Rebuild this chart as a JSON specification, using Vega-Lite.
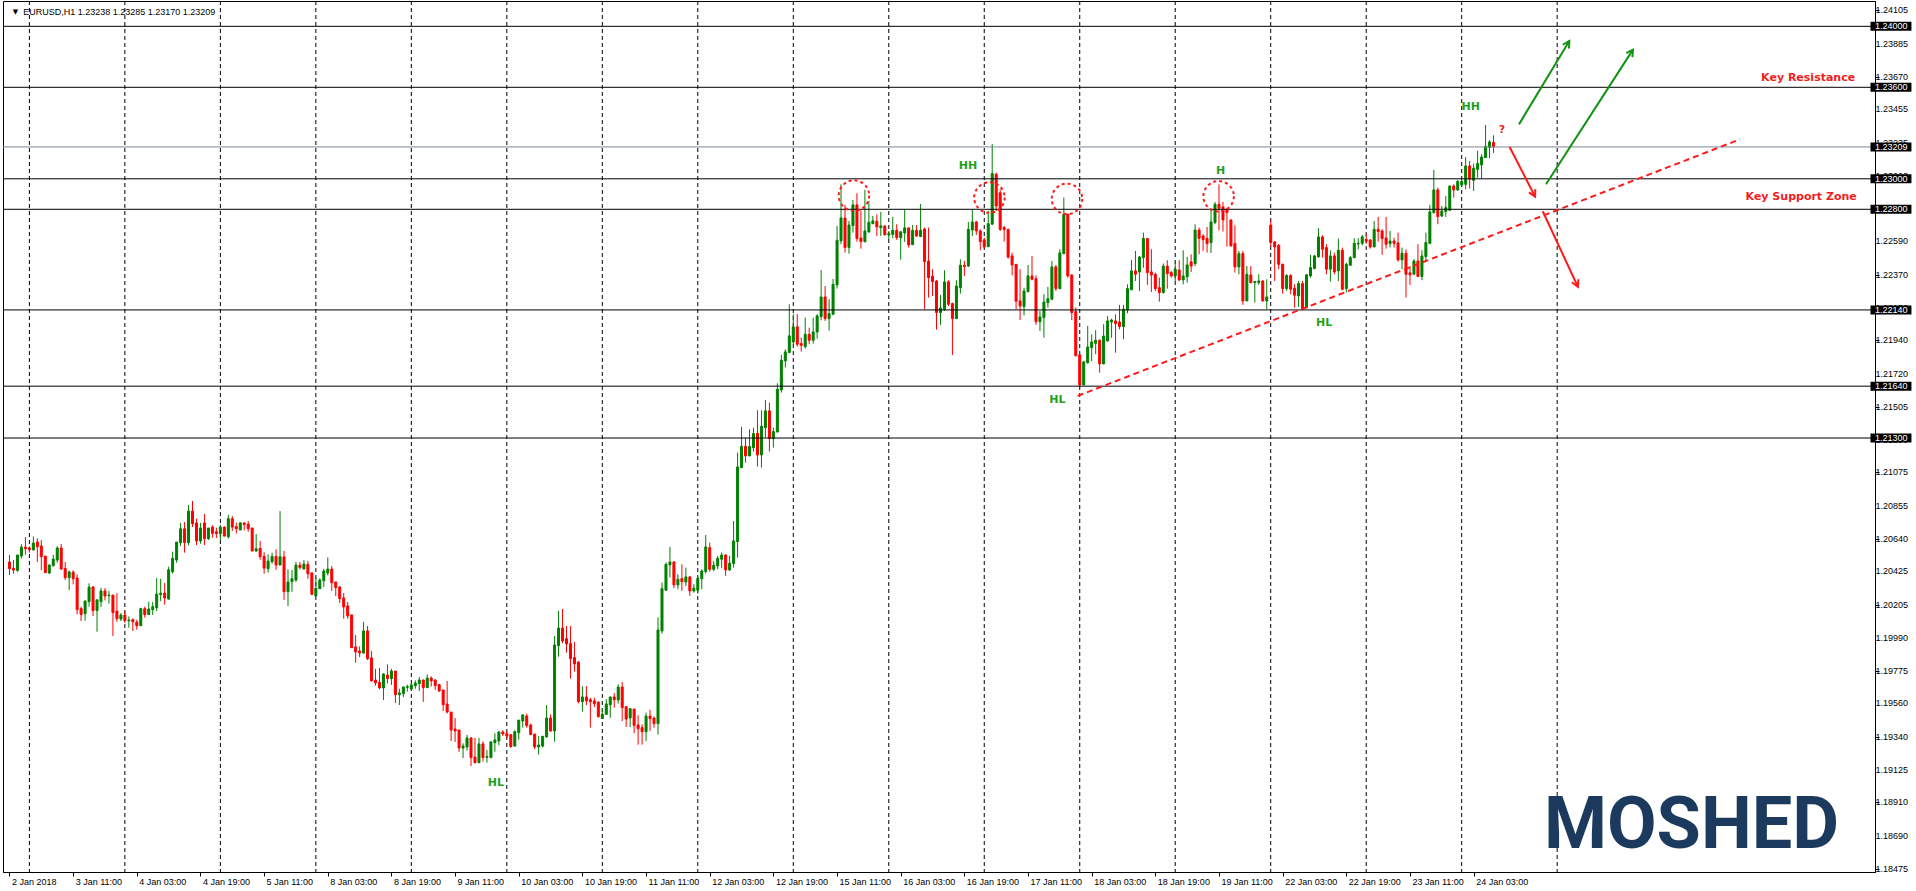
{
  "$schema": "https://vega.github.io/schema/vega-lite/v6.json",
  "width": 1872,
  "height": 871,
  "padding": {"left": 2, "top": 0, "right": 0, "bottom": 0},
  "background": "white",
  "config": {"view": {"stroke": "black", "strokeWidth": 1}, "font": "Liberation Sans", "axis": {"labelOverlap": false, "labelBound": false, "labelFlush": false}},
  "datasets": {
    "bars": [
      {"i":0,"o":1.20487,"h":1.20533,"l":1.20402,"c":1.20443},
      {"i":1,"o":1.20445,"h":1.20500,"l":1.20410,"c":1.20434},
      {"i":2,"o":1.20432,"h":1.20533,"l":1.20423,"c":1.20533},
      {"i":3,"o":1.20526,"h":1.20603,"l":1.20509,"c":1.20585},
      {"i":4,"o":1.20585,"h":1.20651,"l":1.20535,"c":1.20574},
      {"i":5,"o":1.20579,"h":1.20590,"l":1.20548,"c":1.20568},
      {"i":6,"o":1.20566,"h":1.20655,"l":1.20563,"c":1.20611},
      {"i":7,"o":1.20618,"h":1.20642,"l":1.20487,"c":1.20587},
      {"i":8,"o":1.20592,"h":1.20631,"l":1.20434,"c":1.20522},
      {"i":9,"o":1.20526,"h":1.20526,"l":1.20415,"c":1.20417},
      {"i":10,"o":1.20415,"h":1.20471,"l":1.20408,"c":1.20467},
      {"i":11,"o":1.20463,"h":1.20535,"l":1.20456,"c":1.20506},
      {"i":12,"o":1.20500,"h":1.20590,"l":1.20482,"c":1.20579},
      {"i":13,"o":1.20579,"h":1.20605,"l":1.20434,"c":1.20441},
      {"i":14,"o":1.20445,"h":1.20487,"l":1.20369,"c":1.20384},
      {"i":15,"o":1.20384,"h":1.20432,"l":1.20303,"c":1.20421},
      {"i":16,"o":1.20421,"h":1.20432,"l":1.20340,"c":1.20377},
      {"i":17,"o":1.20382,"h":1.20406,"l":1.20144,"c":1.20174},
      {"i":18,"o":1.20181,"h":1.20194,"l":1.20100,"c":1.20142},
      {"i":19,"o":1.20148,"h":1.20235,"l":1.20102,"c":1.20231},
      {"i":20,"o":1.20227,"h":1.20347,"l":1.20194,"c":1.20323},
      {"i":21,"o":1.20323,"h":1.20329,"l":1.20133,"c":1.20168},
      {"i":22,"o":1.20168,"h":1.20244,"l":1.20030,"c":1.20238},
      {"i":23,"o":1.20227,"h":1.20318,"l":1.20192,"c":1.20297},
      {"i":24,"o":1.20297,"h":1.20316,"l":1.20235,"c":1.20264},
      {"i":25,"o":1.20266,"h":1.20297,"l":1.20214,"c":1.20270},
      {"i":26,"o":1.20270,"h":1.20270,"l":1.20002,"c":1.20155},
      {"i":27,"o":1.20165,"h":1.20283,"l":1.20095,"c":1.20115},
      {"i":28,"o":1.20113,"h":1.20152,"l":1.20100,"c":1.20139},
      {"i":29,"o":1.20139,"h":1.20163,"l":1.20087,"c":1.20102},
      {"i":30,"o":1.20102,"h":1.20130,"l":1.20056,"c":1.20106},
      {"i":31,"o":1.20109,"h":1.20117,"l":1.20034,"c":1.20095},
      {"i":32,"o":1.20093,"h":1.20109,"l":1.20043,"c":1.20069},
      {"i":33,"o":1.20069,"h":1.20187,"l":1.20069,"c":1.20181},
      {"i":34,"o":1.20181,"h":1.20194,"l":1.20122,"c":1.20142},
      {"i":35,"o":1.20142,"h":1.20227,"l":1.20142,"c":1.20179},
      {"i":36,"o":1.20174,"h":1.20225,"l":1.20139,"c":1.20194},
      {"i":37,"o":1.20187,"h":1.20382,"l":1.20165,"c":1.20277},
      {"i":38,"o":1.20273,"h":1.20377,"l":1.20231,"c":1.20283},
      {"i":39,"o":1.20283,"h":1.20349,"l":1.20207,"c":1.20251},
      {"i":40,"o":1.20244,"h":1.20456,"l":1.20240,"c":1.20436},
      {"i":41,"o":1.20423,"h":1.20555,"l":1.20412,"c":1.20511},
      {"i":42,"o":1.20500,"h":1.20618,"l":1.20482,"c":1.20618},
      {"i":43,"o":1.20614,"h":1.20743,"l":1.20592,"c":1.20705},
      {"i":44,"o":1.20705,"h":1.20749,"l":1.20548,"c":1.20614},
      {"i":45,"o":1.20614,"h":1.20861,"l":1.20596,"c":1.20821},
      {"i":46,"o":1.20821,"h":1.20887,"l":1.20716,"c":1.20738},
      {"i":47,"o":1.20743,"h":1.20771,"l":1.20598,"c":1.20625},
      {"i":48,"o":1.20625,"h":1.20743,"l":1.20607,"c":1.20710},
      {"i":49,"o":1.20743,"h":1.20802,"l":1.20598,"c":1.20640},
      {"i":50,"o":1.20640,"h":1.20710,"l":1.20631,"c":1.20710},
      {"i":51,"o":1.20716,"h":1.20729,"l":1.20646,"c":1.20675},
      {"i":52,"o":1.20686,"h":1.20712,"l":1.20644,"c":1.20673},
      {"i":53,"o":1.20673,"h":1.20732,"l":1.20631,"c":1.20716},
      {"i":54,"o":1.20716,"h":1.20721,"l":1.20655,"c":1.20657},
      {"i":55,"o":1.20653,"h":1.20797,"l":1.20640,"c":1.20771},
      {"i":56,"o":1.20771,"h":1.20788,"l":1.20690,"c":1.20716},
      {"i":57,"o":1.20719,"h":1.20745,"l":1.20673,"c":1.20705},
      {"i":58,"o":1.20697,"h":1.20749,"l":1.20697,"c":1.20743},
      {"i":59,"o":1.20743,"h":1.20747,"l":1.20694,"c":1.20732},
      {"i":60,"o":1.20736,"h":1.20756,"l":1.20686,"c":1.20705},
      {"i":61,"o":1.20710,"h":1.20710,"l":1.20559,"c":1.20559},
      {"i":62,"o":1.20559,"h":1.20670,"l":1.20555,"c":1.20574},
      {"i":63,"o":1.20576,"h":1.20625,"l":1.20502,"c":1.20522},
      {"i":64,"o":1.20524,"h":1.20552,"l":1.20410,"c":1.20447},
      {"i":65,"o":1.20443,"h":1.20537,"l":1.20417,"c":1.20493},
      {"i":66,"o":1.20489,"h":1.20548,"l":1.20476,"c":1.20524},
      {"i":67,"o":1.20524,"h":1.20570,"l":1.20436,"c":1.20467},
      {"i":68,"o":1.20467,"h":1.20821,"l":1.20467,"c":1.20522},
      {"i":69,"o":1.20520,"h":1.20559,"l":1.20238,"c":1.20292},
      {"i":70,"o":1.20292,"h":1.20439,"l":1.20198,"c":1.20356},
      {"i":71,"o":1.20358,"h":1.20434,"l":1.20292,"c":1.20377},
      {"i":72,"o":1.20369,"h":1.20487,"l":1.20356,"c":1.20467},
      {"i":73,"o":1.20467,"h":1.20487,"l":1.20439,"c":1.20450},
      {"i":74,"o":1.20441,"h":1.20500,"l":1.20439,"c":1.20474},
      {"i":75,"o":1.20471,"h":1.20493,"l":1.20377,"c":1.20410},
      {"i":76,"o":1.20415,"h":1.20419,"l":1.20270,"c":1.20275},
      {"i":77,"o":1.20264,"h":1.20384,"l":1.20264,"c":1.20314},
      {"i":78,"o":1.20312,"h":1.20380,"l":1.20312,"c":1.20369},
      {"i":79,"o":1.20364,"h":1.20443,"l":1.20323,"c":1.20428},
      {"i":80,"o":1.20415,"h":1.20517,"l":1.20399,"c":1.20441},
      {"i":81,"o":1.20441,"h":1.20461,"l":1.20297,"c":1.20351},
      {"i":82,"o":1.20356,"h":1.20356,"l":1.20264,"c":1.20319},
      {"i":83,"o":1.20323,"h":1.20330,"l":1.20218,"c":1.20247},
      {"i":84,"o":1.20251,"h":1.20284,"l":1.20115,"c":1.20192},
      {"i":85,"o":1.20199,"h":1.20225,"l":1.20115,"c":1.20133},
      {"i":86,"o":1.20140,"h":1.20140,"l":1.19925,"c":1.19925},
      {"i":87,"o":1.19930,"h":1.20008,"l":1.19827,"c":1.19897},
      {"i":88,"o":1.19903,"h":1.19934,"l":1.19864,"c":1.19890},
      {"i":89,"o":1.19890,"h":1.20094,"l":1.19886,"c":1.20035},
      {"i":90,"o":1.20035,"h":1.20067,"l":1.19844,"c":1.19853},
      {"i":91,"o":1.19858,"h":1.19903,"l":1.19702,"c":1.19707},
      {"i":92,"o":1.19713,"h":1.19786,"l":1.19676,"c":1.19694},
      {"i":93,"o":1.19698,"h":1.19792,"l":1.19652,"c":1.19661},
      {"i":94,"o":1.19661,"h":1.19755,"l":1.19582,"c":1.19753},
      {"i":95,"o":1.19746,"h":1.19816,"l":1.19691,"c":1.19722},
      {"i":96,"o":1.19722,"h":1.19786,"l":1.19681,"c":1.19772},
      {"i":97,"o":1.19772,"h":1.19772,"l":1.19562,"c":1.19617},
      {"i":98,"o":1.19617,"h":1.19656,"l":1.19549,"c":1.19628},
      {"i":99,"o":1.19624,"h":1.19670,"l":1.19602,"c":1.19667},
      {"i":100,"o":1.19665,"h":1.19683,"l":1.19637,"c":1.19670},
      {"i":101,"o":1.19654,"h":1.19696,"l":1.19648,"c":1.19681},
      {"i":102,"o":1.19676,"h":1.19711,"l":1.19656,"c":1.19694},
      {"i":103,"o":1.19689,"h":1.19733,"l":1.19641,"c":1.19713},
      {"i":104,"o":1.19713,"h":1.19715,"l":1.19569,"c":1.19663},
      {"i":105,"o":1.19663,"h":1.19750,"l":1.19663,"c":1.19726},
      {"i":106,"o":1.19726,"h":1.19737,"l":1.19670,"c":1.19707},
      {"i":107,"o":1.19713,"h":1.19718,"l":1.19648,"c":1.19676},
      {"i":108,"o":1.19683,"h":1.19685,"l":1.19635,"c":1.19641},
      {"i":109,"o":1.19648,"h":1.19648,"l":1.19510,"c":1.19551},
      {"i":110,"o":1.19556,"h":1.19707,"l":1.19495,"c":1.19503},
      {"i":111,"o":1.19503,"h":1.19503,"l":1.19313,"c":1.19385},
      {"i":112,"o":1.19392,"h":1.19464,"l":1.19307,"c":1.19379},
      {"i":113,"o":1.19385,"h":1.19385,"l":1.19241,"c":1.19267},
      {"i":114,"o":1.19267,"h":1.19298,"l":1.19202,"c":1.19280},
      {"i":115,"o":1.19274,"h":1.19353,"l":1.19250,"c":1.19333},
      {"i":116,"o":1.19333,"h":1.19337,"l":1.19149,"c":1.19204},
      {"i":117,"o":1.19208,"h":1.19333,"l":1.19165,"c":1.19171},
      {"i":118,"o":1.19171,"h":1.19333,"l":1.19167,"c":1.19294},
      {"i":119,"o":1.19294,"h":1.19311,"l":1.19178,"c":1.19204},
      {"i":120,"o":1.19206,"h":1.19254,"l":1.19171,"c":1.19211},
      {"i":121,"o":1.19204,"h":1.19313,"l":1.19204,"c":1.19307},
      {"i":122,"o":1.19302,"h":1.19364,"l":1.19243,"c":1.19320},
      {"i":123,"o":1.19313,"h":1.19379,"l":1.19285,"c":1.19372},
      {"i":124,"o":1.19372,"h":1.19385,"l":1.19346,"c":1.19359},
      {"i":125,"o":1.19361,"h":1.19379,"l":1.19331,"c":1.19346},
      {"i":126,"o":1.19355,"h":1.19355,"l":1.19270,"c":1.19276},
      {"i":127,"o":1.19280,"h":1.19383,"l":1.19276,"c":1.19374},
      {"i":128,"o":1.19368,"h":1.19453,"l":1.19322,"c":1.19449},
      {"i":129,"o":1.19444,"h":1.19488,"l":1.19401,"c":1.19484},
      {"i":130,"o":1.19477,"h":1.19493,"l":1.19401,"c":1.19414},
      {"i":131,"o":1.19418,"h":1.19427,"l":1.19355,"c":1.19355},
      {"i":132,"o":1.19359,"h":1.19359,"l":1.19259,"c":1.19274},
      {"i":133,"o":1.19274,"h":1.19346,"l":1.19224,"c":1.19287},
      {"i":134,"o":1.19280,"h":1.19346,"l":1.19270,"c":1.19344},
      {"i":135,"o":1.19340,"h":1.19549,"l":1.19335,"c":1.19464},
      {"i":136,"o":1.19464,"h":1.19488,"l":1.19374,"c":1.19379},
      {"i":137,"o":1.19379,"h":1.20002,"l":1.19309,"c":1.19943},
      {"i":138,"o":1.19938,"h":1.20166,"l":1.19866,"c":1.20054},
      {"i":139,"o":1.20054,"h":1.20179,"l":1.19954,"c":1.19969},
      {"i":140,"o":1.19984,"h":1.20067,"l":1.19893,"c":1.19949},
      {"i":141,"o":1.19952,"h":1.20067,"l":1.19722,"c":1.19853},
      {"i":142,"o":1.19860,"h":1.19963,"l":1.19768,"c":1.19818},
      {"i":143,"o":1.19831,"h":1.19836,"l":1.19560,"c":1.19571},
      {"i":144,"o":1.19571,"h":1.19672,"l":1.19506,"c":1.19602},
      {"i":145,"o":1.19602,"h":1.19674,"l":1.19549,"c":1.19576},
      {"i":146,"o":1.19584,"h":1.19597,"l":1.19401,"c":1.19571},
      {"i":147,"o":1.19576,"h":1.19597,"l":1.19536,"c":1.19558},
      {"i":148,"o":1.19569,"h":1.19569,"l":1.19466,"c":1.19473},
      {"i":149,"o":1.19460,"h":1.19525,"l":1.19460,"c":1.19490},
      {"i":150,"o":1.19488,"h":1.19587,"l":1.19484,"c":1.19556},
      {"i":151,"o":1.19551,"h":1.19602,"l":1.19466,"c":1.19602},
      {"i":152,"o":1.19602,"h":1.19628,"l":1.19532,"c":1.19584},
      {"i":153,"o":1.19582,"h":1.19685,"l":1.19558,"c":1.19667},
      {"i":154,"o":1.19667,"h":1.19700,"l":1.19444,"c":1.19532},
      {"i":155,"o":1.19538,"h":1.19543,"l":1.19405,"c":1.19457},
      {"i":156,"o":1.19464,"h":1.19527,"l":1.19405,"c":1.19525},
      {"i":157,"o":1.19523,"h":1.19523,"l":1.19363,"c":1.19416},
      {"i":158,"o":1.19418,"h":1.19482,"l":1.19289,"c":1.19394},
      {"i":159,"o":1.19401,"h":1.19423,"l":1.19289,"c":1.19374},
      {"i":160,"o":1.19374,"h":1.19499,"l":1.19313,"c":1.19477},
      {"i":161,"o":1.19477,"h":1.19517,"l":1.19379,"c":1.19460},
      {"i":162,"o":1.19464,"h":1.19473,"l":1.19401,"c":1.19427},
      {"i":163,"o":1.19427,"h":1.20124,"l":1.19355,"c":1.20041},
      {"i":164,"o":1.20035,"h":1.20352,"l":1.20017,"c":1.20312},
      {"i":165,"o":1.20302,"h":1.20483,"l":1.20297,"c":1.20472},
      {"i":166,"o":1.20468,"h":1.20586,"l":1.20385,"c":1.20487},
      {"i":167,"o":1.20487,"h":1.20494,"l":1.20315,"c":1.20337},
      {"i":168,"o":1.20337,"h":1.20407,"l":1.20308,"c":1.20374},
      {"i":169,"o":1.20378,"h":1.20472,"l":1.20297,"c":1.20358},
      {"i":170,"o":1.20356,"h":1.20450,"l":1.20330,"c":1.20389},
      {"i":171,"o":1.20389,"h":1.20396,"l":1.20264,"c":1.20297},
      {"i":172,"o":1.20297,"h":1.20341,"l":1.20286,"c":1.20315},
      {"i":173,"o":1.20302,"h":1.20389,"l":1.20280,"c":1.20380},
      {"i":174,"o":1.20378,"h":1.20439,"l":1.20308,"c":1.20428},
      {"i":175,"o":1.20424,"h":1.20664,"l":1.20411,"c":1.20586},
      {"i":176,"o":1.20581,"h":1.20614,"l":1.20424,"c":1.20439},
      {"i":177,"o":1.20439,"h":1.20494,"l":1.20428,"c":1.20466},
      {"i":178,"o":1.20461,"h":1.20527,"l":1.20439,"c":1.20511},
      {"i":179,"o":1.20505,"h":1.20549,"l":1.20446,"c":1.20533},
      {"i":180,"o":1.20533,"h":1.20538,"l":1.20396,"c":1.20435},
      {"i":181,"o":1.20435,"h":1.20527,"l":1.20428,"c":1.20479},
      {"i":182,"o":1.20477,"h":1.20756,"l":1.20450,"c":1.20625},
      {"i":183,"o":1.20621,"h":1.21204,"l":1.20516,"c":1.21110},
      {"i":184,"o":1.21106,"h":1.21373,"l":1.21102,"c":1.21246},
      {"i":185,"o":1.21246,"h":1.21303,"l":1.21139,"c":1.21183},
      {"i":186,"o":1.21183,"h":1.21357,"l":1.21180,"c":1.21244},
      {"i":187,"o":1.21237,"h":1.21368,"l":1.21211,"c":1.21329},
      {"i":188,"o":1.21331,"h":1.21482,"l":1.21113,"c":1.21189},
      {"i":189,"o":1.21189,"h":1.21482,"l":1.21106,"c":1.21377},
      {"i":190,"o":1.21368,"h":1.21550,"l":1.21303,"c":1.21478},
      {"i":191,"o":1.21478,"h":1.21532,"l":1.21211,"c":1.21296},
      {"i":192,"o":1.21296,"h":1.21368,"l":1.21237,"c":1.21342},
      {"i":193,"o":1.21340,"h":1.21659,"l":1.21336,"c":1.21620},
      {"i":194,"o":1.21615,"h":1.21845,"l":1.21598,"c":1.21810},
      {"i":195,"o":1.21806,"h":1.21882,"l":1.21762,"c":1.21865},
      {"i":196,"o":1.21860,"h":1.22177,"l":1.21860,"c":1.21970},
      {"i":197,"o":1.21930,"h":1.22112,"l":1.21915,"c":1.22029},
      {"i":198,"o":1.22029,"h":1.22112,"l":1.21900,"c":1.21915},
      {"i":199,"o":1.21919,"h":1.21959,"l":1.21867,"c":1.21908},
      {"i":200,"o":1.21900,"h":1.22090,"l":1.21886,"c":1.21980},
      {"i":201,"o":1.21980,"h":1.22024,"l":1.21915,"c":1.21941},
      {"i":202,"o":1.21941,"h":1.22090,"l":1.21919,"c":1.21996},
      {"i":203,"o":1.21996,"h":1.22112,"l":1.21952,"c":1.22101},
      {"i":204,"o":1.22096,"h":1.22402,"l":1.22072,"c":1.22225},
      {"i":205,"o":1.22225,"h":1.22297,"l":1.22068,"c":1.22083},
      {"i":206,"o":1.22083,"h":1.22210,"l":1.22004,"c":1.22116},
      {"i":207,"o":1.22112,"h":1.22343,"l":1.22105,"c":1.22308},
      {"i":208,"o":1.22304,"h":1.22691,"l":1.22280,"c":1.22597},
      {"i":209,"o":1.22593,"h":1.22964,"l":1.22571,"c":1.22743},
      {"i":210,"o":1.22743,"h":1.22829,"l":1.22516,"c":1.22549},
      {"i":211,"o":1.22549,"h":1.22724,"l":1.22509,"c":1.22697},
      {"i":212,"o":1.22693,"h":1.22861,"l":1.22647,"c":1.22829},
      {"i":213,"o":1.22829,"h":1.22905,"l":1.22588,"c":1.22608},
      {"i":214,"o":1.22612,"h":1.22794,"l":1.22542,"c":1.22588},
      {"i":215,"o":1.22588,"h":1.22927,"l":1.22582,"c":1.22658},
      {"i":216,"o":1.22652,"h":1.22855,"l":1.22645,"c":1.22715},
      {"i":217,"o":1.22706,"h":1.22756,"l":1.22702,"c":1.22724},
      {"i":218,"o":1.22721,"h":1.22767,"l":1.22625,"c":1.22684},
      {"i":219,"o":1.22680,"h":1.22783,"l":1.22625,"c":1.22691},
      {"i":220,"o":1.22691,"h":1.22691,"l":1.22630,"c":1.22632},
      {"i":221,"o":1.22632,"h":1.22658,"l":1.22603,"c":1.22641},
      {"i":222,"o":1.22636,"h":1.22750,"l":1.22610,"c":1.22662},
      {"i":223,"o":1.22662,"h":1.22702,"l":1.22599,"c":1.22614},
      {"i":224,"o":1.22614,"h":1.22658,"l":1.22470,"c":1.22652},
      {"i":225,"o":1.22645,"h":1.22798,"l":1.22586,"c":1.22678},
      {"i":226,"o":1.22678,"h":1.22678,"l":1.22549,"c":1.22566},
      {"i":227,"o":1.22568,"h":1.22697,"l":1.22566,"c":1.22662},
      {"i":228,"o":1.22662,"h":1.22697,"l":1.22619,"c":1.22625},
      {"i":229,"o":1.22621,"h":1.22835,"l":1.22619,"c":1.22662},
      {"i":230,"o":1.22671,"h":1.22680,"l":1.22144,"c":1.22457},
      {"i":231,"o":1.22461,"h":1.22680,"l":1.22221,"c":1.22352},
      {"i":232,"o":1.22361,"h":1.22407,"l":1.22232,"c":1.22326},
      {"i":233,"o":1.22330,"h":1.22337,"l":1.22011,"c":1.22123},
      {"i":234,"o":1.22123,"h":1.22238,"l":1.22042,"c":1.22153},
      {"i":235,"o":1.22142,"h":1.22400,"l":1.22133,"c":1.22324},
      {"i":236,"o":1.22324,"h":1.22335,"l":1.22166,"c":1.22177},
      {"i":237,"o":1.22182,"h":1.22188,"l":1.21845,"c":1.22083},
      {"i":238,"o":1.22083,"h":1.22335,"l":1.22083,"c":1.22297},
      {"i":239,"o":1.22286,"h":1.22472,"l":1.22247,"c":1.22433},
      {"i":240,"o":1.22433,"h":1.22461,"l":1.22363,"c":1.22424},
      {"i":241,"o":1.22428,"h":1.22717,"l":1.22422,"c":1.22669},
      {"i":242,"o":1.22664,"h":1.22796,"l":1.22625,"c":1.22717},
      {"i":243,"o":1.22717,"h":1.22724,"l":1.22632,"c":1.22658},
      {"i":244,"o":1.22658,"h":1.22669,"l":1.22531,"c":1.22588},
      {"i":245,"o":1.22599,"h":1.22614,"l":1.22544,"c":1.22555},
      {"i":246,"o":1.22555,"h":1.22789,"l":1.22553,"c":1.22706},
      {"i":247,"o":1.22702,"h":1.23228,"l":1.22702,"c":1.23034},
      {"i":248,"o":1.23030,"h":1.23040,"l":1.22789,"c":1.22822},
      {"i":249,"o":1.22909,"h":1.22931,"l":1.22658,"c":1.22669},
      {"i":250,"o":1.22680,"h":1.22691,"l":1.22588,"c":1.22667},
      {"i":251,"o":1.22669,"h":1.22669,"l":1.22476,"c":1.22487},
      {"i":252,"o":1.22494,"h":1.22516,"l":1.22367,"c":1.22435},
      {"i":253,"o":1.22439,"h":1.22439,"l":1.22144,"c":1.22197},
      {"i":254,"o":1.22199,"h":1.22407,"l":1.22074,"c":1.22166},
      {"i":255,"o":1.22162,"h":1.22286,"l":1.22105,"c":1.22264},
      {"i":256,"o":1.22260,"h":1.22435,"l":1.22254,"c":1.22363},
      {"i":257,"o":1.22363,"h":1.22494,"l":1.22334,"c":1.22341},
      {"i":258,"o":1.22345,"h":1.22367,"l":1.22042,"c":1.22063},
      {"i":259,"o":1.22063,"h":1.22133,"l":1.22002,"c":1.22094},
      {"i":260,"o":1.22090,"h":1.22243,"l":1.21958,"c":1.22192},
      {"i":261,"o":1.22188,"h":1.22291,"l":1.22155,"c":1.22214},
      {"i":262,"o":1.22210,"h":1.22461,"l":1.22203,"c":1.22422},
      {"i":263,"o":1.22422,"h":1.22435,"l":1.22264,"c":1.22280},
      {"i":264,"o":1.22280,"h":1.22538,"l":1.22275,"c":1.22514},
      {"i":265,"o":1.22509,"h":1.22877,"l":1.22505,"c":1.22767},
      {"i":266,"o":1.22767,"h":1.22772,"l":1.22352,"c":1.22363},
      {"i":267,"o":1.22369,"h":1.22374,"l":1.22074,"c":1.22122},
      {"i":268,"o":1.22129,"h":1.22155,"l":1.21834,"c":1.21840},
      {"i":269,"o":1.21845,"h":1.21849,"l":1.21631,"c":1.21648},
      {"i":270,"o":1.21648,"h":1.21805,"l":1.21648,"c":1.21799},
      {"i":271,"o":1.21794,"h":1.22035,"l":1.21788,"c":1.21897},
      {"i":272,"o":1.21893,"h":1.21980,"l":1.21805,"c":1.21930},
      {"i":273,"o":1.21921,"h":1.22007,"l":1.21849,"c":1.21941},
      {"i":274,"o":1.21941,"h":1.21947,"l":1.21729,"c":1.21786},
      {"i":275,"o":1.21786,"h":1.22046,"l":1.21784,"c":1.21969},
      {"i":276,"o":1.21937,"h":1.22101,"l":1.21932,"c":1.22068},
      {"i":277,"o":1.22061,"h":1.22083,"l":1.21958,"c":1.22074},
      {"i":278,"o":1.22068,"h":1.22111,"l":1.21860,"c":1.22050},
      {"i":279,"o":1.22061,"h":1.22173,"l":1.22013,"c":1.22031},
      {"i":280,"o":1.22031,"h":1.22173,"l":1.21947,"c":1.22144},
      {"i":281,"o":1.22140,"h":1.22308,"l":1.22118,"c":1.22280},
      {"i":282,"o":1.22273,"h":1.22468,"l":1.22269,"c":1.22396},
      {"i":283,"o":1.22396,"h":1.22527,"l":1.22330,"c":1.22374},
      {"i":284,"o":1.22389,"h":1.22494,"l":1.22264,"c":1.22487},
      {"i":285,"o":1.22483,"h":1.22647,"l":1.22417,"c":1.22608},
      {"i":286,"o":1.22608,"h":1.22610,"l":1.22304,"c":1.22385},
      {"i":287,"o":1.22389,"h":1.22538,"l":1.22258,"c":1.22369},
      {"i":288,"o":1.22374,"h":1.22385,"l":1.22264,"c":1.22280},
      {"i":289,"o":1.22286,"h":1.22352,"l":1.22194,"c":1.22254},
      {"i":290,"o":1.22254,"h":1.22444,"l":1.22247,"c":1.22428},
      {"i":291,"o":1.22428,"h":1.22466,"l":1.22280,"c":1.22378},
      {"i":292,"o":1.22385,"h":1.22396,"l":1.22352,"c":1.22363},
      {"i":293,"o":1.22363,"h":1.22466,"l":1.22324,"c":1.22407},
      {"i":294,"o":1.22402,"h":1.22466,"l":1.22330,"c":1.22337},
      {"i":295,"o":1.22337,"h":1.22531,"l":1.22308,"c":1.22363},
      {"i":296,"o":1.22358,"h":1.22487,"l":1.22319,"c":1.22435},
      {"i":297,"o":1.22455,"h":1.22505,"l":1.22389,"c":1.22428},
      {"i":298,"o":1.22444,"h":1.22702,"l":1.22428,"c":1.22664},
      {"i":299,"o":1.22664,"h":1.22680,"l":1.22505,"c":1.22610},
      {"i":300,"o":1.22625,"h":1.22636,"l":1.22527,"c":1.22601},
      {"i":301,"o":1.22608,"h":1.22684,"l":1.22516,"c":1.22575},
      {"i":302,"o":1.22581,"h":1.22804,"l":1.22514,"c":1.22717},
      {"i":303,"o":1.22713,"h":1.22848,"l":1.22702,"c":1.22833},
      {"i":304,"o":1.22833,"h":1.22964,"l":1.22662,"c":1.22807},
      {"i":305,"o":1.22815,"h":1.22848,"l":1.22654,"c":1.22730},
      {"i":306,"o":1.22800,"h":1.22811,"l":1.22555,"c":1.22778},
      {"i":307,"o":1.22730,"h":1.22734,"l":1.22555,"c":1.22560},
      {"i":308,"o":1.22575,"h":1.22695,"l":1.22385,"c":1.22422},
      {"i":309,"o":1.22422,"h":1.22527,"l":1.22374,"c":1.22509},
      {"i":310,"o":1.22509,"h":1.22527,"l":1.22173,"c":1.22199},
      {"i":311,"o":1.22199,"h":1.22428,"l":1.22199,"c":1.22374},
      {"i":312,"o":1.22369,"h":1.22428,"l":1.22315,"c":1.22319},
      {"i":313,"o":1.22319,"h":1.22330,"l":1.22188,"c":1.22326},
      {"i":314,"o":1.22319,"h":1.22374,"l":1.22304,"c":1.22330},
      {"i":315,"o":1.22330,"h":1.22335,"l":1.22195,"c":1.22199},
      {"i":316,"o":1.22199,"h":1.22341,"l":1.22144,"c":1.22225},
      {"i":317,"o":1.22697,"h":1.22728,"l":1.22553,"c":1.22582},
      {"i":318,"o":1.22586,"h":1.22592,"l":1.22330,"c":1.22553},
      {"i":319,"o":1.22564,"h":1.22571,"l":1.22407,"c":1.22439},
      {"i":320,"o":1.22439,"h":1.22444,"l":1.22247,"c":1.22280},
      {"i":321,"o":1.22280,"h":1.22374,"l":1.22265,"c":1.22366},
      {"i":322,"o":1.22366,"h":1.22374,"l":1.22243,"c":1.22276},
      {"i":323,"o":1.22282,"h":1.22308,"l":1.22155,"c":1.22236},
      {"i":324,"o":1.22232,"h":1.22330,"l":1.22160,"c":1.22313},
      {"i":325,"o":1.22313,"h":1.22330,"l":1.22138,"c":1.22144},
      {"i":326,"o":1.22155,"h":1.22374,"l":1.22155,"c":1.22370},
      {"i":327,"o":1.22363,"h":1.22501,"l":1.22352,"c":1.22418},
      {"i":328,"o":1.22411,"h":1.22501,"l":1.22407,"c":1.22494},
      {"i":329,"o":1.22488,"h":1.22676,"l":1.22483,"c":1.22619},
      {"i":330,"o":1.22619,"h":1.22630,"l":1.22483,"c":1.22538},
      {"i":331,"o":1.22549,"h":1.22571,"l":1.22374,"c":1.22407},
      {"i":332,"o":1.22407,"h":1.22531,"l":1.22326,"c":1.22494},
      {"i":333,"o":1.22494,"h":1.22516,"l":1.22374,"c":1.22389},
      {"i":334,"o":1.22396,"h":1.22608,"l":1.22330,"c":1.22531},
      {"i":335,"o":1.22531,"h":1.22549,"l":1.22269,"c":1.22276},
      {"i":336,"o":1.22280,"h":1.22450,"l":1.22254,"c":1.22439},
      {"i":337,"o":1.22433,"h":1.22494,"l":1.22429,"c":1.22483},
      {"i":338,"o":1.22483,"h":1.22610,"l":1.22479,"c":1.22577},
      {"i":339,"o":1.22573,"h":1.22610,"l":1.22538,"c":1.22577},
      {"i":340,"o":1.22577,"h":1.22632,"l":1.22564,"c":1.22619},
      {"i":341,"o":1.22603,"h":1.22636,"l":1.22575,"c":1.22592},
      {"i":342,"o":1.22599,"h":1.22603,"l":1.22542,"c":1.22553},
      {"i":343,"o":1.22553,"h":1.22724,"l":1.22553,"c":1.22669},
      {"i":344,"o":1.22669,"h":1.22750,"l":1.22588,"c":1.22654},
      {"i":345,"o":1.22658,"h":1.22669,"l":1.22501,"c":1.22608},
      {"i":346,"o":1.22612,"h":1.22750,"l":1.22542,"c":1.22571},
      {"i":347,"o":1.22575,"h":1.22658,"l":1.22549,"c":1.22592},
      {"i":348,"o":1.22592,"h":1.22614,"l":1.22549,"c":1.22577},
      {"i":349,"o":1.22579,"h":1.22647,"l":1.22457,"c":1.22468},
      {"i":350,"o":1.22468,"h":1.22549,"l":1.22407,"c":1.22512},
      {"i":351,"o":1.22512,"h":1.22538,"l":1.22221,"c":1.22374},
      {"i":352,"o":1.22383,"h":1.22429,"l":1.22304,"c":1.22370},
      {"i":353,"o":1.22374,"h":1.22472,"l":1.22374,"c":1.22461},
      {"i":354,"o":1.22461,"h":1.22571,"l":1.22359,"c":1.22359},
      {"i":355,"o":1.22359,"h":1.22531,"l":1.22335,"c":1.22494},
      {"i":356,"o":1.22490,"h":1.22647,"l":1.22457,"c":1.22582},
      {"i":357,"o":1.22577,"h":1.22829,"l":1.22571,"c":1.22783},
      {"i":358,"o":1.22778,"h":1.23058,"l":1.22772,"c":1.22927},
      {"i":359,"o":1.22927,"h":1.22942,"l":1.22702,"c":1.22752},
      {"i":360,"o":1.22756,"h":1.22822,"l":1.22750,"c":1.22789},
      {"i":361,"o":1.22785,"h":1.22888,"l":1.22750,"c":1.22811},
      {"i":362,"o":1.22794,"h":1.22953,"l":1.22789,"c":1.22953},
      {"i":363,"o":1.22953,"h":1.22964,"l":1.22877,"c":1.22927},
      {"i":364,"o":1.22927,"h":1.22992,"l":1.22920,"c":1.22982},
      {"i":365,"o":1.22960,"h":1.22992,"l":1.22953,"c":1.22982},
      {"i":366,"o":1.22964,"h":1.23143,"l":1.22931,"c":1.23084},
      {"i":367,"o":1.23084,"h":1.23117,"l":1.22936,"c":1.22997},
      {"i":368,"o":1.22990,"h":1.23100,"l":1.22920,"c":1.23069},
      {"i":369,"o":1.23062,"h":1.23183,"l":1.23008,"c":1.23100},
      {"i":370,"o":1.23091,"h":1.23161,"l":1.23003,"c":1.23143},
      {"i":371,"o":1.23139,"h":1.23353,"l":1.23139,"c":1.23213},
      {"i":372,"o":1.23205,"h":1.23253,"l":1.23135,"c":1.23242},
      {"i":373,"o":1.23238,"h":1.23285,"l":1.23170,"c":1.23209}
    ],
    "grid": [{"d":5},{"d":29},{"d":53},{"d":77},{"d":101},{"d":125},{"d":149},{"d":173},{"d":197},{"d":221},{"d":245},{"d":269},{"d":293},{"d":317},{"d":341},{"d":365},{"d":389}],
    "levels": [{"p":1.24},{"p":1.236},{"p":1.23},{"p":1.228},{"p":1.2214},{"p":1.2164},{"p":1.213}],
    "yticks": [{"v":1.24105},{"v":1.23885},{"v":1.2367},{"v":1.23455},{"v":1.23235},{"v":1.2302},{"v":1.22805},{"v":1.2259},{"v":1.2237},{"v":1.2215},{"v":1.2194},{"v":1.2172},{"v":1.21505},{"v":1.2129},{"v":1.21075},{"v":1.20855},{"v":1.2064},{"v":1.20425},{"v":1.20205},{"v":1.1999},{"v":1.19775},{"v":1.1956},{"v":1.1934},{"v":1.19125},{"v":1.1891},{"v":1.1869},{"v":1.18475}],
    "boxes": [{"p":1.24,"t":"1.24000"},{"p":1.236,"t":"1.23600"},{"p":1.23209,"t":"1.23209"},{"p":1.23,"t":"1.23000"},{"p":1.228,"t":"1.22800"},{"p":1.2214,"t":"1.22140"},{"p":1.2164,"t":"1.21640"},{"p":1.213,"t":"1.21300"}],
    "trend": [{"x1":268.45,"p1":1.21576,"x2":434.95,"p2":1.23259}],
    "circles": [{"i":212.25,"p":1.2289},{"i":246.3,"p":1.22877},{"i":265.8,"p":1.22868},{"i":303.9,"p":1.22885}],
    "arrows": [
      {"a":"G1","k":"up","x1":379.4,"p1":1.23357,"x2":392.05,"p2":1.23904},
      {"a":"G2","k":"up","x1":386.2,"p1":1.22964,"x2":408.05,"p2":1.23847},
      {"a":"R1","k":"down","x1":377.05,"p1":1.23209,"x2":383.45,"p2":1.22883},
      {"a":"R2","k":"down","x1":385.375,"p1":1.22787,"x2":394.2,"p2":1.22292}
    ],
    "greenLabels": [{"t":"HL","i":122.25,"p":1.19038},{"t":"HH","i":240.9,"p":1.23084},{"t":"HL","i":263.4,"p":1.21549},{"t":"H","i":304.4,"p":1.23051},{"t":"HL","i":330.4,"p":1.22054},{"t":"HH","i":367.25,"p":1.23469}],
    "redLabels": [{"t":"Key Resistance","i":463.9,"p":1.23663},{"t":"Key Support Zone","i":464.3,"p":1.22883}]
  },
  "layer": [
    {
      "data": {"name": "grid"},
      "mark": {"type": "rule", "color": "black", "strokeWidth": 1, "strokeDash": [4, 3]},
      "encoding": {
        "x": {"field": "d", "type": "quantitative", "scale": {"domain": [-0.375, 467.625], "nice": false, "zero": false},
          "axis": {"values": [0,16,32,48,64,80,96,112,128,144,160,176,192,208,224,240,256,272,288,304,320,336,352,368],
            "labelExpr": "['2 Jan 2018','3 Jan 11:00','4 Jan 03:00','4 Jan 19:00','5 Jan 11:00','8 Jan 03:00','8 Jan 19:00','9 Jan 11:00','10 Jan 03:00','10 Jan 19:00','11 Jan 11:00','12 Jan 03:00','12 Jan 19:00','15 Jan 11:00','16 Jan 03:00','16 Jan 19:00','17 Jan 11:00','18 Jan 03:00','18 Jan 19:00','19 Jan 11:00','22 Jan 03:00','22 Jan 19:00','23 Jan 11:00','24 Jan 03:00'][round(datum.value/16)]",
            "labelAlign": "left", "labelOffset": 2, "labelFont": "Liberation Sans", "labelFontSize": 9, "labelColor": "black",
            "tickColor": "black", "tickSize": 4, "domainColor": "black", "labelPadding": 1, "title": null, "grid": false,
            "labelOverlap": false, "labelFlush": false, "labelBound": false}}
      }
    },
    {
      "data": {"name": "bars"},
      "mark": {"type": "rule", "strokeWidth": 1},
      "encoding": {
        "x": {"field": "i", "type": "quantitative"},
        "y": {"field": "l", "type": "quantitative", "scale": {"domain": [1.18454, 1.24166], "nice": false, "zero": false},
          "axis": {"orient": "right", "values": [1.24105,1.23885,1.2367,1.23455,1.23235,1.2302,1.22805,1.2259,1.2237,1.2215,1.2194,1.2172,1.21505,1.2129,1.21075,1.20855,1.2064,1.20425,1.20205,1.1999,1.19775,1.1956,1.1934,1.19125,1.1891,1.1869,1.18475],
            "labels": false, "tickColor": "black", "tickSize": 4, "domainColor": "black", "title": null, "grid": false}},
        "y2": {"field": "h"},
        "color": {"condition": {"test": "datum.c >= datum.o", "value": "#008000"}, "value": "#ff0000"}
      }
    },
    {
      "data": {"name": "bars"},
      "mark": {"type": "bar", "width": 2, "strokeWidth": 1},
      "encoding": {
        "x": {"field": "i", "type": "quantitative"},
        "y": {"field": "o", "type": "quantitative"},
        "y2": {"field": "c"},
        "fill": {"condition": {"test": "datum.c >= datum.o", "value": "#008000"}, "value": "#ff0000"},
        "stroke": {"condition": {"test": "datum.c >= datum.o", "value": "#008000"}, "value": "#ff0000"}
      }
    },
    {
      "data": {"name": "levels"},
      "mark": {"type": "rule", "color": "black", "strokeWidth": 1},
      "encoding": {"y": {"field": "p", "type": "quantitative"}}
    },
    {
      "data": {"values": [{"p": 1.23209}]},
      "mark": {"type": "rule", "color": "#7a8a99", "strokeWidth": 1},
      "encoding": {"y": {"field": "p", "type": "quantitative"}}
    },
    {
      "data": {"name": "trend"},
      "mark": {"type": "rule", "color": "#ff1a1a", "strokeWidth": 2, "strokeDash": [6, 4]},
      "encoding": {
        "x": {"field": "x1", "type": "quantitative"}, "x2": {"field": "x2"},
        "y": {"field": "p1", "type": "quantitative"}, "y2": {"field": "p2"}
      }
    },
    {
      "data": {"name": "circles"},
      "mark": {"type": "point", "shape": "circle", "size": 930, "filled": false, "stroke": "#ff1a1a", "strokeWidth": 2, "strokeDash": [3, 3], "opacity": 1},
      "encoding": {"x": {"field": "i", "type": "quantitative"}, "y": {"field": "p", "type": "quantitative"}}
    },
    {
      "data": {"name": "arrows"},
      "mark": {"type": "rule", "strokeWidth": 2},
      "encoding": {
        "x": {"field": "x1", "type": "quantitative"}, "x2": {"field": "x2"},
        "y": {"field": "p1", "type": "quantitative"}, "y2": {"field": "p2"},
        "color": {"condition": {"test": "datum.k == 'up'", "value": "#119211"}, "value": "#ff1a1a"}
      }
    },
    {
      "data": {"name": "arrows"},
      "transform": [{"filter": "datum.a == 'G1'"}],
      "mark": {"type": "point", "shape": "M-1.2,2.2L0,0L1.2,2.2", "size": 36, "filled": false, "stroke": "#119211", "strokeWidth": 2, "angle": 31, "opacity": 1},
      "encoding": {"x": {"field": "x2", "type": "quantitative"}, "y": {"field": "p2", "type": "quantitative"}}
    },
    {
      "data": {"name": "arrows"},
      "transform": [{"filter": "datum.a == 'G2'"}],
      "mark": {"type": "point", "shape": "M-1.2,2.2L0,0L1.2,2.2", "size": 36, "filled": false, "stroke": "#119211", "strokeWidth": 2, "angle": 33, "opacity": 1},
      "encoding": {"x": {"field": "x2", "type": "quantitative"}, "y": {"field": "p2", "type": "quantitative"}}
    },
    {
      "data": {"name": "arrows"},
      "transform": [{"filter": "datum.a == 'R1'"}],
      "mark": {"type": "point", "shape": "M-1.2,2.2L0,0L1.2,2.2", "size": 36, "filled": false, "stroke": "#ff1a1a", "strokeWidth": 2, "angle": 153, "opacity": 1},
      "encoding": {"x": {"field": "x2", "type": "quantitative"}, "y": {"field": "p2", "type": "quantitative"}}
    },
    {
      "data": {"name": "arrows"},
      "transform": [{"filter": "datum.a == 'R2'"}],
      "mark": {"type": "point", "shape": "M-1.2,2.2L0,0L1.2,2.2", "size": 36, "filled": false, "stroke": "#ff1a1a", "strokeWidth": 2, "angle": 155, "opacity": 1},
      "encoding": {"x": {"field": "x2", "type": "quantitative"}, "y": {"field": "p2", "type": "quantitative"}}
    },
    {
      "data": {"name": "greenLabels"},
      "mark": {"type": "text", "font": "DejaVu Sans", "fontSize": 11, "fontWeight": "bold", "color": "#1fa01f", "align": "center", "baseline": "middle"},
      "encoding": {"x": {"field": "i", "type": "quantitative"}, "y": {"field": "p", "type": "quantitative"}, "text": {"field": "t"}}
    },
    {
      "data": {"name": "redLabels"},
      "mark": {"type": "text", "font": "DejaVu Sans", "fontSize": 11, "fontWeight": "bold", "color": "#f01e1e", "align": "right", "baseline": "middle"},
      "encoding": {"x": {"field": "i", "type": "quantitative"}, "y": {"field": "p", "type": "quantitative"}, "text": {"field": "t"}}
    },
    {
      "data": {"values": [{"t": "?", "i": 375.1, "p": 1.23318}]},
      "mark": {"type": "text", "font": "DejaVu Sans", "fontSize": 11, "fontWeight": "bold", "color": "#f01e1e", "align": "center", "baseline": "middle"},
      "encoding": {"x": {"field": "i", "type": "quantitative"}, "y": {"field": "p", "type": "quantitative"}, "text": {"field": "t"}}
    },
    {
      "data": {"values": [{"t": "MOSHED", "i": 422.75, "p": 1.18612}]},
      "mark": {"type": "text", "font": "Roboto", "fontSize": 72, "fontWeight": "bold", "color": "#1c3a5e", "align": "center", "baseline": "alphabetic"},
      "encoding": {"x": {"field": "i", "type": "quantitative"}, "y": {"field": "p", "type": "quantitative"}, "text": {"field": "t"}}
    },
    {
      "data": {"values": [{"t": "▼", "i": 1.5, "p": 1.24094}]},
      "mark": {"type": "text", "font": "DejaVu Sans", "fontSize": 7, "color": "black", "align": "center", "baseline": "middle"},
      "encoding": {"x": {"field": "i", "type": "quantitative"}, "y": {"field": "p", "type": "quantitative"}, "text": {"field": "t"}}
    },
    {
      "data": {"values": [{"t": "EURUSD,H1  1.23238 1.23285 1.23170 1.23209", "i": 3.45, "p": 1.24094}]},
      "mark": {"type": "text", "font": "Liberation Sans", "fontSize": 9, "color": "black", "align": "left", "baseline": "middle"},
      "encoding": {"x": {"field": "i", "type": "quantitative"}, "y": {"field": "p", "type": "quantitative"}, "text": {"field": "t"}}
    },
    {
      "data": {"name": "yticks"},
      "mark": {"type": "text", "font": "Liberation Sans", "fontSize": 9, "color": "black", "align": "left", "baseline": "middle"},
      "encoding": {"x": {"datum": 469.0, "type": "quantitative"}, "y": {"field": "v", "type": "quantitative"}, "text": {"field": "v", "type": "quantitative", "format": ".5f"}}
    },
    {
      "data": {"name": "boxes"},
      "mark": {"type": "point", "shape": "M0,-1L9.1,-1L9.1,1L0,1Z", "size": 81, "filled": true, "fill": "black", "strokeWidth": 0, "opacity": 1},
      "encoding": {"x": {"datum": 467.75, "type": "quantitative"}, "y": {"field": "p", "type": "quantitative"}}
    },
    {
      "data": {"name": "boxes"},
      "mark": {"type": "text", "font": "Liberation Sans", "fontSize": 9, "color": "white", "align": "left", "baseline": "middle"},
      "encoding": {"x": {"datum": 468.9, "type": "quantitative"}, "y": {"field": "p", "type": "quantitative"}, "text": {"field": "t"}}
    }
  ]
}
